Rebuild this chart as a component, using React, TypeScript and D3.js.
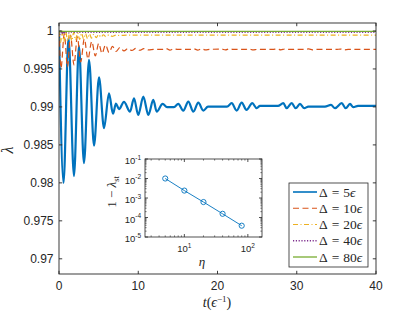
import React from 'react';
import * as d3 from 'd3';

// main panel: lambda(t) for each Delta
const tBlue = [0, 0.57, 1.2, 1.89, 2.52, 3.15, 3.79, 4.42, 5.05, 5.68, 6.31, 6.81, 7.19, 7.57, 8.2, 8.96, 9.46, 10.0, 10.64, 11.27, 11.9, 12.33, 13.08, 13.63, 14.51, 15.05, 15.68, 16.32, 16.95, 17.58, 18.21, 18.8, 19.43, 20.3, 21.2, 21.79, 22.42, 23.05, 23.66, 24.39, 24.95, 25.36, 27.63, 28.3, 28.73, 29.36, 29.87, 30.41, 30.95, 31.46, 33.56, 34.32, 34.83, 35.67, 36.18, 36.72, 37.14, 37.73, 40];
const lamBlue = [1, 0.98, 0.9991, 0.9809, 0.998, 0.9826, 0.9962, 0.9849, 0.9939, 0.9872, 0.9918, 0.9891, 0.99043, 0.9897, 0.99066, 0.98938, 0.99114, 0.98895, 0.99135, 0.98895, 0.99092, 0.98938, 0.99039, 0.98996, 0.98996, 0.99039, 0.98951, 0.9907, 0.98938, 0.99056, 0.98951, 0.99004, 0.99004, 0.99004, 0.99004, 0.99049, 0.98951, 0.99056, 0.9896, 0.99049, 0.98983, 0.99013, 0.99013, 0.99049, 0.98983, 0.99049, 0.98983, 0.99039, 0.98983, 0.99004, 0.99004, 0.99026, 0.98983, 0.99049, 0.98983, 0.99039, 0.98996, 0.99013, 0.99013];

const tOrange = [0, 0.25, 0.67, 1.07, 1.45, 1.89, 2.31, 2.74, 3.19, 3.66, 4.13, 4.58, 5.01, 5.43, 5.87, 6.31, 6.75, 7.19, 7.7, 8.2, 8.7, 9.2, 9.7, 10.2, 10.7, 11.3, 12, 13, 13.5, 14, 14.5, 15, 16.5, 17, 17.5, 18, 18.5, 19, 20.5, 21, 21.5, 22, 23.5, 24, 24.5, 25, 27, 27.5, 28, 28.5, 29, 31, 31.5, 32, 32.5, 35, 35.5, 36, 36.5, 40];
const lamOrange = [1, 0.99513, 0.99961, 0.99526, 0.99947, 0.99553, 0.99921, 0.99592, 0.99895, 0.99632, 0.99862, 0.99671, 0.99836, 0.99704, 0.99816, 0.99717, 0.99796, 0.9973, 0.99783, 0.99737, 0.9977, 0.99744, 0.9977, 0.99746, 0.99768, 0.9975, 0.99757, 0.99757, 0.99768, 0.99748, 0.99766, 0.99757, 0.99757, 0.99766, 0.99749, 0.99765, 0.9975, 0.99757, 0.99762, 0.9975, 0.99764, 0.99757, 0.99757, 0.99763, 0.9975, 0.99757, 0.99757, 0.99764, 0.99751, 0.99763, 0.99757, 0.99757, 0.99763, 0.99752, 0.99757, 0.99757, 0.99762, 0.99752, 0.99757, 0.99757];

const tYellow = [0, 0.2, 0.4, 0.6, 0.85, 1.1, 1.35, 1.6, 1.85, 2.1, 2.35, 2.6, 2.85, 3.1, 3.35, 3.6, 3.85, 4.1, 4.4, 4.7, 5.0, 5.3, 5.6, 5.9, 6.3, 6.7, 7.2, 7.7, 8.5, 40];
const lamYellow = [1, 0.9985, 0.99995, 0.99858, 0.9999, 0.99865, 0.99985, 0.99872, 0.9998, 0.9988, 0.99975, 0.99888, 0.9997, 0.99895, 0.99966, 0.999, 0.99962, 0.99906, 0.99958, 0.99912, 0.99954, 0.99918, 0.9995, 0.99925, 0.99948, 0.9993, 0.99946, 0.9994, 0.99945, 0.99945];

const tPurple = [0, 0.15, 0.3, 0.45, 0.6, 0.8, 1.0, 1.2, 1.5, 2, 40];
const lamPurple = [1, 0.99955, 0.99998, 0.9996, 0.99994, 0.99968, 0.9999, 0.99975, 0.99985, 0.99982, 0.99982];

const tGreen = [0, 0.1, 0.2, 0.35, 0.6, 40];
const lamGreen = [1, 0.99988, 1.0, 0.99992, 0.99996, 0.99996];

const xTicks = [0, 10, 20, 30, 40];
const yTicks = [0.97, 0.975, 0.98, 0.985, 0.99, 0.995, 1];
const yTickLabels = ['0.97', '0.975', '0.98', '0.985', '0.99', '0.995', '1'];

const legendDeltas = ['5', '10', '20', '40', '80'];

// inset: steady-state 1 - lambda_st vs eta
const etaVals = [5, 10, 20, 40, 80];
const oneMinusLamSt = [1e-2, 2.4e-3, 6.2e-4, 1.55e-4, 3.8e-5];
const insetXTicks = [1, 2];
const insetYTicks = [-1, -2, -3, -4, -5];

const ink = '#262626';
const serif = "'Liberation Serif', 'DejaVu Serif', serif";

function App() {
  const x = d3.scaleLinear([0, 40], [59, 376]);
  const y = d3.scaleLinear([0.968, 1.00105], [274, 23]);

  const series = [
    { t: tBlue, v: lamBlue, color: '#0072BD', w: 2.2, dash: undefined },
    { t: tOrange, v: lamOrange, color: '#D95319', w: 1.2, dash: '6,3.5' },
    { t: tYellow, v: lamYellow, color: '#EDB120', w: 1.2, dash: '5,2.5,1,2.5' },
    { t: tPurple, v: lamPurple, color: '#7E2F8E', w: 1.3, dash: '1.2,1.6' },
    { t: tGreen, v: lamGreen, color: '#77AC30', w: 1.3, dash: undefined },
  ];

  const line = d3.line<[number, number]>()
    .x(d => x(d[0]))
    .y(d => y(d[1]))
    .curve(d3.curveMonotoneX);

  const [x0, x1] = x.range();
  const [y0, y1] = y.range();

  // inset scales
  const xi = d3.scaleLog([2.4, 167], [145, 262]);
  const yi = d3.scaleLog([1e-5, 1e-1], [237, 159]);
  const [xi0, xi1] = xi.range();
  const [yi0, yi1] = yi.range();
  const insetLine = d3.line<number>()
    .x((_, i) => xi(etaVals[i]))
    .y(d => yi(d));

  const xMinor: number[] = [];
  [1, 10, 100].forEach(b => d3.range(2, 10).forEach(m => {
    const v = b * m;
    if (v > 2.4 && v < 167) xMinor.push(v);
  }));
  const yMinor: number[] = [];
  [1e-5, 1e-4, 1e-3, 1e-2].forEach(b => d3.range(2, 10).forEach(m => yMinor.push(b * m)));

  // legend geometry
  const lgX = 289, lgY = 183, lgW = 79, lgH = 84;
  const lgRows = d3.scaleLinear([0, 4], [192, 257]);

  return (
    <svg width={415} height={312} style={{ position: 'absolute', left: 0, top: 0, background: '#fff' }}
      fontFamily="'Liberation Sans', Arial, sans-serif">
      <defs>
        <clipPath id="plotclip">
          <rect x={x0} y={y1} width={x1 - x0} height={y0 - y1} />
        </clipPath>
      </defs>

      {/* main lines */}
      <g clipPath="url(#plotclip)">
        {series.map((s, i) => (
          <path key={i}
            d={line(s.t.map((t, j) => [t, s.v[j]] as [number, number])) || ''}
            fill="none" stroke={s.color} strokeWidth={s.w}
            strokeDasharray={s.dash} strokeLinejoin="round" />
        ))}
      </g>

      {/* axes box and ticks */}
      <rect x={x0} y={y1} width={x1 - x0} height={y0 - y1} fill="none" stroke={ink} strokeWidth={0.9} />
      {xTicks.map(t => (
        <g key={'xt' + t}>
          <line x1={x(t)} x2={x(t)} y1={y0} y2={y0 - 3.2} stroke={ink} strokeWidth={0.9} />
          <line x1={x(t)} x2={x(t)} y1={y1} y2={y1 + 3.2} stroke={ink} strokeWidth={0.9} />
          <text x={x(t)} y={289.5} fontSize={12} textAnchor="middle" fill={ink}>{t}</text>
        </g>
      ))}
      {yTicks.map((t, i) => (
        <g key={'yt' + t}>
          <line x1={x0} x2={x0 + 3.2} y1={y(t)} y2={y(t)} stroke={ink} strokeWidth={0.9} />
          <line x1={x1} x2={x1 - 3.2} y1={y(t)} y2={y(t)} stroke={ink} strokeWidth={0.9} />
          <text x={53.5} y={y(t) + 4.3} fontSize={12} textAnchor="end" fill={ink}>{yTickLabels[i]}</text>
        </g>
      ))}

      {/* axis labels */}
      <text x={217} y={306.5} fontSize={14} textAnchor="middle" fill={ink} fontFamily={serif}>
        <tspan fontStyle="italic">t</tspan>
        <tspan>(</tspan>
        <tspan fontStyle="italic">ϵ</tspan>
        <tspan fontSize={9} dy={-5}>−1</tspan>
        <tspan dy={5}>)</tspan>
      </text>
      <text transform="translate(13,150) rotate(-90)" fontSize={16} textAnchor="middle" fill={ink}
        fontFamily={serif} fontStyle="italic">λ</text>

      {/* inset */}
      <rect x={xi0} y={yi1} width={xi1 - xi0} height={yi0 - yi1} fill="#fff" stroke={ink} strokeWidth={0.8} />
      {xMinor.map((v, i) => (
        <g key={'xm' + i}>
          <line x1={xi(v)} x2={xi(v)} y1={yi0} y2={yi0 - 1.6} stroke={ink} strokeWidth={0.6} />
          <line x1={xi(v)} x2={xi(v)} y1={yi1} y2={yi1 + 1.6} stroke={ink} strokeWidth={0.6} />
        </g>
      ))}
      {yMinor.map((v, i) => (
        <g key={'ym' + i}>
          <line x1={xi0} x2={xi0 + 1.6} y1={yi(v)} y2={yi(v)} stroke={ink} strokeWidth={0.6} />
          <line x1={xi1} x2={xi1 - 1.6} y1={yi(v)} y2={yi(v)} stroke={ink} strokeWidth={0.6} />
        </g>
      ))}
      {insetXTicks.map(p => (
        <g key={'ixt' + p}>
          <line x1={xi(10 ** p)} x2={xi(10 ** p)} y1={yi0} y2={yi0 - 3} stroke={ink} strokeWidth={0.8} />
          <line x1={xi(10 ** p)} x2={xi(10 ** p)} y1={yi1} y2={yi1 + 3} stroke={ink} strokeWidth={0.8} />
          <text x={xi(10 ** p)} y={252} fontSize={9.5} textAnchor="middle" fill={ink}>
            10<tspan fontSize={6.5} dy={-4.5}>{p}</tspan>
          </text>
        </g>
      ))}
      {insetYTicks.map(p => (
        <g key={'iyt' + p}>
          <line x1={xi0} x2={xi0 + 3} y1={yi(10 ** p)} y2={yi(10 ** p)} stroke={ink} strokeWidth={0.8} />
          <line x1={xi1} x2={xi1 - 3} y1={yi(10 ** p)} y2={yi(10 ** p)} stroke={ink} strokeWidth={0.8} />
          <text x={141} y={yi(10 ** p) + 5} fontSize={9.5} textAnchor="end" fill={ink}>
            10<tspan fontSize={6.5} dy={-4.5}>{p}</tspan>
          </text>
        </g>
      ))}
      <path d={insetLine(oneMinusLamSt) || ''} fill="none" stroke="#0072BD" strokeWidth={0.9} />
      {oneMinusLamSt.map((v, i) => (
        <circle key={'ip' + i} cx={xi(etaVals[i])} cy={yi(v)} r={2.6}
          fill="none" stroke="#0072BD" strokeWidth={0.9} />
      ))}
      <text x={202} y={266} fontSize={13} textAnchor="middle" fill={ink}
        fontFamily={serif} fontStyle="italic">η</text>
      <text transform="translate(116,192) rotate(-90)" fontSize={13} textAnchor="middle" fill={ink}
        fontFamily={serif}>
        <tspan>1 − </tspan>
        <tspan fontStyle="italic">λ</tspan>
        <tspan fontSize={8.5} dy={3}>st</tspan>
      </text>

      {/* legend */}
      <rect x={lgX} y={lgY} width={lgW} height={lgH} fill="#fff" stroke={ink} strokeWidth={0.8} />
      {legendDeltas.map((d, i) => {
        const s = series[i];
        const yy = lgRows(i);
        return (
          <g key={'lg' + d}>
            <line x1={293} x2={317} y1={yy} y2={yy} stroke={s.color}
              strokeWidth={Math.min(s.w, 1.6)} strokeDasharray={s.dash} />
            <text x={319} y={yy + 4.5} fontSize={13.5} fill={ink} fontFamily={serif}>
              <tspan>Δ</tspan>
              <tspan dx={4}>=</tspan>
              <tspan dx={4}>{d}</tspan>
              <tspan fontStyle="italic">ϵ</tspan>
            </text>
          </g>
        );
      })}
    </svg>
  );
}

export default App;
